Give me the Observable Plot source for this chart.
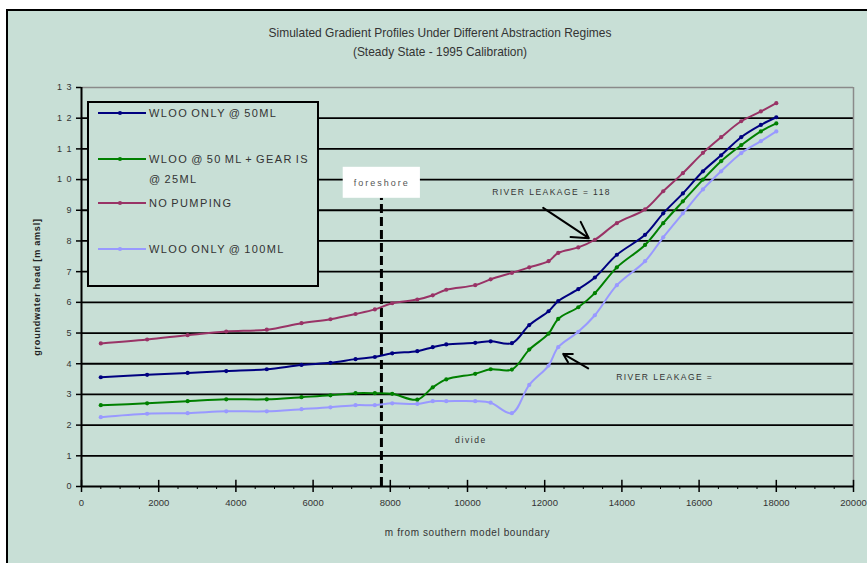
<!DOCTYPE html>
<html>
<head>
<meta charset="utf-8">
<script src="https://cdn.jsdelivr.net/npm/d3@7"></script>
<script src="https://cdn.jsdelivr.net/npm/@observablehq/plot@0.6"></script>
<style>
  html, body { margin: 0; padding: 0; background: #ffffff; width: 867px; height: 563px; overflow: hidden; }
  #frame { position: absolute; left: 6px; top: 9px; width: 900px; height: 620px; border: 2px solid #000; background: #C8DFD6; box-sizing: border-box; }
  .title { position: absolute; left: 0; width: 880px; text-align: center; font-family: "Liberation Sans", Arial, sans-serif; color: #333; transform: scaleX(0.92); transform-origin: 440px 0; }
  #chart { position: absolute; left: 0; top: 70px; }
  #legend { position: absolute; left: 87px; top: 101px; width: 232px; height: 186px; border: 2px solid #000; background: #C8DFD6; box-sizing: border-box; font-family: "Liberation Sans", Arial, sans-serif; font-size: 11px; letter-spacing: 1.4px; word-spacing: -1.5px; color: #333; }
  .entry { position: absolute; left: 9px; height: 14px; }
  .entry svg { position: absolute; left: 0; top: 0; }
  .entry span { position: absolute; left: 51px; top: 0; line-height: 14px; white-space: nowrap; }
</style>
</head>
<body>
<div id="frame"></div>
<div class="title" style="top:26px;font-size:13px;line-height:14px;">Simulated Gradient Profiles Under Different Abstraction Regimes</div>
<div class="title" style="top:45px;font-size:13px;line-height:14px;">(Steady State - 1995 Calibration)</div>
<div id="chart"></div>
<div id="legend"></div>
<script>
// ---- data ----
const seriesNames = ["WLOO ONLY @ 50ML", "WLOO @ 50 ML + GEARIS @ 25ML", "NO PUMPING", "WLOO ONLY @ 100ML"];
const seriesColors = ["#000080", "#008000", "#993366", "#9999FF"];
const distance = [500, 1700, 2750, 3750, 4800, 5700, 6450, 7100, 7600, 8050, 8700, 9100, 9450, 10200, 10600, 11150, 11600, 12100, 12350, 12870, 13300, 13870, 14600, 15070, 15580, 16100, 16570, 17090, 17600, 18000];
const wloo50 = [3.56, 3.64, 3.70, 3.76, 3.82, 3.96, 4.03, 4.15, 4.22, 4.34, 4.41, 4.54, 4.63, 4.68, 4.73, 4.67, 5.26, 5.71, 6.04, 6.43, 6.81, 7.55, 8.20, 8.90, 9.55, 10.27, 10.79, 11.38, 11.78, 12.03];
const wlooGearis = [2.65, 2.71, 2.78, 2.84, 2.84, 2.91, 2.97, 3.04, 3.04, 3.02, 2.83, 3.23, 3.49, 3.67, 3.82, 3.81, 4.46, 4.98, 5.46, 5.84, 6.30, 7.14, 7.87, 8.58, 9.29, 10.00, 10.60, 11.12, 11.57, 11.83];
const noPumping = [4.66, 4.79, 4.93, 5.05, 5.11, 5.32, 5.45, 5.62, 5.77, 5.97, 6.09, 6.23, 6.41, 6.56, 6.75, 6.96, 7.14, 7.34, 7.61, 7.79, 8.04, 8.58, 9.03, 9.62, 10.21, 10.87, 11.38, 11.90, 12.22, 12.49];
const wloo100 = [2.26, 2.37, 2.39, 2.45, 2.45, 2.52, 2.58, 2.65, 2.65, 2.71, 2.69, 2.78, 2.78, 2.78, 2.73, 2.39, 3.31, 3.94, 4.54, 5.04, 5.58, 6.56, 7.34, 8.12, 8.90, 9.68, 10.27, 10.86, 11.25, 11.57];
const seriesValues = [wloo50, wlooGearis, noPumping, wloo100];

const yTicks = [0, 1, 2, 3, 4, 5, 6, 7, 8, 9, 10, 11, 12, 13];
const yGrid = [1, 2, 3, 4, 5, 6, 7, 8, 9, 10, 11, 12];
const xTicks = [0, 2000, 4000, 6000, 8000, 10000, 12000, 14000, 16000, 18000, 20000];
const xMinor = d3.range(0, 20001, 500).filter(v => v % 2000 !== 0);

// annotations (data coordinates)
const foreshoreX = 7770;
const foreshoreBox = [{x1: 6780, x2: 8780, y1: 9.39, y2: 10.4}];
const foreshoreLabel = [{x: 7780, y: 9.9, text: "foreshore"}];
const notes = [
  {x: 10640, y: 9.6, text: "RIVER LEAKAGE = 118"},
  {x: 13852, y: 3.56, text: "RIVER LEAKAGE ="}
];
const divideLabel = [{x: 10091, y: 1.52, text: "divide"}];
const arrows = [
  {x1: 11961, y1: 9.08, x2: 13142, y2: 8.09},
  {x1: 13127, y1: 3.85, x2: 12479, y2: 4.32}
];

const rows = [];
seriesNames.forEach((s, i) => distance.forEach((d, j) => rows.push({series: s, x: d, y: seriesValues[i][j]})));

const fmtY = d => d >= 10 ? String(d).split("").join("\u2002") : String(d);

const plot = Plot.plot({
  width: 867,
  height: 493,
  marginLeft: 81,
  marginRight: 14,
  marginTop: 17,
  marginBottom: 77,
  style: {background: "transparent", fontFamily: "Liberation Sans, Arial, sans-serif", color: "#333"},
  x: {domain: [0, 20000]},
  y: {domain: [0, 13]},
  color: {domain: seriesNames, range: seriesColors},
  marks: [
    Plot.ruleY(yGrid, {stroke: "#000", strokeWidth: 1.8}),
    Plot.ruleY([13], {stroke: "#8a8a8a", strokeWidth: 1.5}),
    Plot.ruleX([20000], {y1: 0, y2: 13, stroke: "#8a8a8a", strokeWidth: 1.5}),
    Plot.ruleX([foreshoreX], {y1: 0, y2: foreshoreBox[0].y1, stroke: "#000", strokeWidth: 3, strokeDasharray: "9,4"}),
    Plot.rect(foreshoreBox, {x1: "x1", x2: "x2", y1: "y1", y2: "y2", fill: "#fff"}),
    Plot.text(foreshoreLabel, {x: "x", y: "y", text: "text", fontSize: 9, fill: "#555"}),
    Plot.line(rows, {x: "x", y: "y", z: "series", stroke: "series", strokeWidth: 2, curve: "catmull-rom"}),
    Plot.dot(rows, {x: "x", y: "y", fill: "series", r: 2.1}),
    Plot.text(notes, {x: "x", y: "y", text: "text", textAnchor: "start", fontSize: 8.5, fill: "#333"}),
    Plot.text(divideLabel, {x: "x", y: "y", text: "text", fontSize: 8.5, fill: "#333"}),
    Plot.arrow(arrows, {x1: "x1", y1: "y1", x2: "x2", y2: "y2", stroke: "#000", strokeWidth: 2, headLength: 20, headAngle: 60}),
    Plot.ruleX([0], {y1: 0, y2: 13, stroke: "#000", strokeWidth: 2}),
    Plot.ruleY([0], {stroke: "#000", strokeWidth: 2}),
    Plot.ruleX(xTicks, {y1: 0, y2: 0.2, stroke: "#000", strokeWidth: 1.5}),
    Plot.axisY({ticks: yTicks, tickSize: 5, tickPadding: 5, tickFormat: fmtY, fontSize: 9, stroke: "#000", strokeWidth: 1.5, label: "groundwater head [m amsl]", labelAnchor: "center", labelOffset: 48, labelArrow: "none"}),
    Plot.axisX({ticks: xTicks, tickSize: 6, tickPadding: 7, tickFormat: d => String(d), fontSize: 9.5, stroke: "#000", strokeWidth: 1.5, label: "m from southern model boundary", labelAnchor: "center", labelOffset: 49, labelArrow: "none"}),
    Plot.axisX({ticks: xMinor, tickSize: 3, text: null, stroke: "#000", strokeWidth: 1, label: null})
  ]
});
document.getElementById("chart").appendChild(plot);

// text styling (letter spacing etc.)
plot.querySelectorAll("[aria-label='y-axis label'] text").forEach(t => { t.style.fontWeight = "bold"; t.style.fontSize = "9px"; t.style.letterSpacing = "0.8px"; t.style.fill = "#222"; });
plot.querySelectorAll("[aria-label='x-axis label'] text").forEach(t => { t.style.fontSize = "10px"; t.style.letterSpacing = "0.6px"; });
plot.querySelectorAll("text").forEach(t => {
  const s = t.textContent;
  if (s === "foreshore") t.style.letterSpacing = "2px";
  else if (s.startsWith("RIVER")) t.style.letterSpacing = "1.45px";
  else if (s === "divide") t.style.letterSpacing = "1.6px";
});

// legend
const legend = document.getElementById("legend");
const entryTops = [{name: seriesNames[0], lines: ["WLOO ONLY @ 50ML"], y: 113},
                   {name: seriesNames[1], lines: ["WLOO @ 50 ML + GEAR IS", "@ 25ML"], y: 159},
                   {name: seriesNames[2], lines: ["NO PUMPING"], y: 203},
                   {name: seriesNames[3], lines: ["WLOO ONLY @ 100ML"], y: 249}];
entryTops.forEach((e, i) => {
  const div = document.createElement("div");
  div.className = "entry";
  div.style.top = (e.y - 101 - 2 - 7) + "px";
  const c = seriesColors[seriesNames.indexOf(e.name)];
  div.innerHTML = `<svg width="50" height="14"><line x1="0" y1="7" x2="48" y2="7" stroke="${c}" stroke-width="2"/><circle cx="22" cy="7" r="2.1" fill="${c}"/></svg>` +
    e.lines.map((l, k) => `<span style="top:${k * 20}px">${l}</span>`).join("");
  legend.appendChild(div);
});
</script>
</body>
</html>
